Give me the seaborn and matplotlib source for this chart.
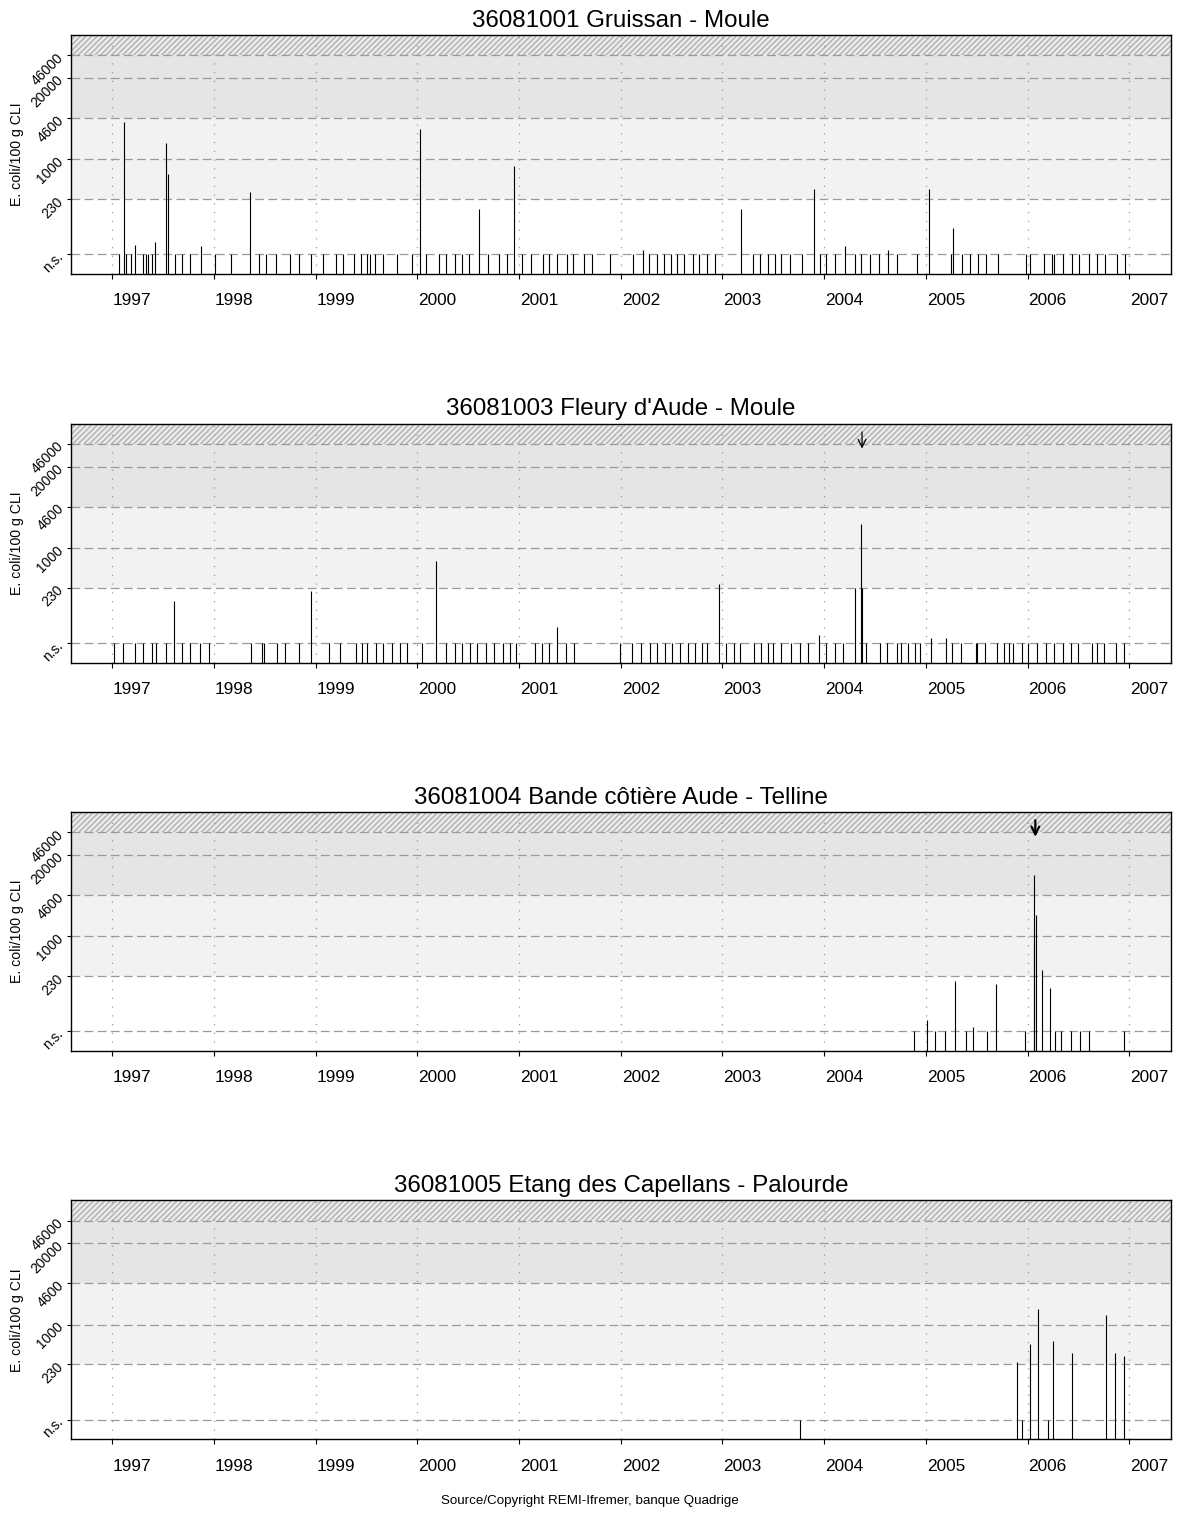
import pandas as pd
import matplotlib.pyplot as plt
from matplotlib.ticker import NullFormatter, NullLocator
import seaborn as sns

NS = 30  # where "n.s." results are drawn
Y_MIN, Y_MAX = 14.6, 97500

titles = [
    "36081001 Gruissan - Moule",
    "36081003 Fleury d'Aude - Moule",
    "36081004 Bande côtière Aude - Telline",
    "36081005 Etang des Capellans - Palourde",
]

# 36081001 Gruissan - Moule
p1_year = [1997.069, 1997.112, 1997.13, 1997.184, 1997.226, 1997.305, 1997.328, 1997.348, 1997.387, 1997.42,
           1997.531, 1997.545, 1997.613, 1997.682, 1997.761, 1997.875, 1998.013, 1998.167, 1998.357, 1998.44,
           1998.508, 1998.61, 1998.744, 1998.836, 1998.957, 1999.069, 1999.2, 1999.268, 1999.374, 1999.445,
           1999.501, 1999.537, 1999.586, 1999.662, 1999.796, 1999.944, 2000.022, 2000.08, 2000.215, 2000.281,
           2000.367, 2000.439, 2000.504, 2000.606, 2000.694, 2000.8, 2000.878, 2000.947, 2001.025, 2001.12,
           2001.232, 2001.297, 2001.37, 2001.468, 2001.527, 2001.638, 2001.717, 2001.894, 2002.117, 2002.218,
           2002.28, 2002.359, 2002.428, 2002.49, 2002.556, 2002.622, 2002.707, 2002.772, 2002.845, 2002.926,
           2003.179, 2003.303, 2003.369, 2003.45, 2003.516, 2003.58, 2003.664, 2003.779, 2003.897, 2003.956,
           2004.015, 2004.11, 2004.205, 2004.3, 2004.362, 2004.45, 2004.536, 2004.624, 2004.719, 2004.915,
           2005.027, 2005.244, 2005.263, 2005.352, 2005.43, 2005.515, 2005.591, 2005.709, 2005.981, 2006.024,
           2006.165, 2006.241, 2006.257, 2006.345, 2006.434, 2006.508, 2006.604, 2006.679, 2006.761, 2006.876,
           2006.958]
p1_val = [NS, 3950, NS, NS, 42, NS, NS, NS, NS, 47,
          1800, 580, NS, NS, NS, 41, NS, NS, 303, NS,
          NS, NS, NS, NS, NS, NS, NS, NS, NS, NS,
          NS, NS, NS, NS, NS, NS, 3020, NS, NS, NS,
          NS, NS, NS, 160, NS, NS, NS, 780, NS, NS,
          NS, NS, NS, NS, NS, NS, NS, NS, NS, 35,
          NS, NS, NS, NS, NS, NS, NS, NS, NS, NS,
          160, NS, NS, NS, NS, NS, NS, NS, 332, NS,
          NS, NS, 41, NS, NS, NS, NS, 35, NS, NS,
          332, NS, 79, NS, NS, NS, NS, NS, NS, NS,
          NS, NS, NS, NS, NS, NS, NS, NS, NS, NS,
          NS]

# 36081003 Fleury d'Aude - Moule
p2_year = [1997.013, 1997.108, 1997.226, 1997.305, 1997.387, 1997.426, 1997.531, 1997.61, 1997.685, 1997.764,
           1997.862, 1997.951, 1998.361, 1998.475, 1998.492, 1998.622, 1998.698, 1998.836, 1998.954, 1999.131,
           1999.236, 1999.396, 1999.452, 1999.507, 1999.59, 1999.665, 1999.747, 1999.83, 1999.9, 2000.045,
           2000.183, 2000.281, 2000.37, 2000.439, 2000.517, 2000.586, 2000.675, 2000.753, 2000.842, 2000.912,
           2000.97, 2001.156, 2001.225, 2001.294, 2001.373, 2001.461, 2001.54, 2001.992, 2002.11, 2002.198,
           2002.287, 2002.356, 2002.434, 2002.503, 2002.582, 2002.66, 2002.729, 2002.798, 2002.843, 2002.961,
           2003.039, 2003.115, 2003.177, 2003.308, 2003.383, 2003.448, 2003.498, 2003.579, 2003.671, 2003.759,
           2003.841, 2003.949, 2004.015, 2004.11, 2004.185, 2004.3, 2004.362, 2004.375, 2004.414, 2004.552,
           2004.62, 2004.712, 2004.751, 2004.823, 2004.895, 2004.944, 2005.046, 2005.2, 2005.255, 2005.347,
           2005.488, 2005.501, 2005.583, 2005.7, 2005.772, 2005.822, 2005.854, 2005.943, 2006.0, 2006.097,
           2006.182, 2006.263, 2006.352, 2006.427, 2006.499, 2006.633, 2006.683, 2006.754, 2006.869, 2006.944]
p2_val = [NS, NS, NS, NS, NS, NS, NS, 142, NS, NS,
          NS, NS, NS, NS, NS, NS, NS, NS, 203, NS,
          NS, NS, NS, NS, NS, NS, NS, NS, NS, NS,
          630, NS, NS, NS, NS, NS, NS, NS, NS, NS,
          NS, NS, NS, NS, 54, NS, NS, NS, NS, NS,
          NS, NS, NS, NS, NS, NS, NS, NS, NS, 262,
          NS, NS, NS, NS, NS, NS, NS, NS, NS, NS,
          NS, 40, NS, NS, NS, 230, 2390, 230, NS, NS,
          NS, NS, NS, NS, NS, NS, 36, 36, NS, NS,
          NS, NS, NS, NS, NS, NS, NS, NS, NS, NS,
          NS, NS, NS, NS, NS, NS, NS, NS, NS, NS]

# 36081004 Bande côtière Aude - Telline
p3_year = [2004.881, 2005.013, 2005.092, 2005.191, 2005.287, 2005.399, 2005.459, 2005.597, 2005.693, 2005.97,
           2006.059, 2006.066, 2006.086, 2006.139, 2006.218, 2006.274, 2006.333, 2006.426, 2006.512, 2006.607,
           2006.95]
p3_val = [NS, 45, NS, NS, 190, NS, 35, NS, 171, NS,
          9460, 863, 2170, 293, 151, NS, NS, NS, NS, NS,
          NS]

# 36081005 Etang des Capellans - Palourde
p4_year = [2003.76, 2005.894, 2005.947, 2006.02, 2006.099, 2006.201, 2006.254, 2006.436, 2006.772, 2006.855,
           2006.95]
p4_val = [NS, 249, NS, 484, 1800, NS, 541, 357, 1410, 357,
          311]

# results above the plotted range (drawn as down arrows)
over_year = {titles[1]: [2004.372], titles[2]: [2006.076]}

years = list(range(1997, 2008))
thresholds = [NS, 230, 1000, 4600, 20000, 46000]
threshold_labels = ["n.s.", "230", "1000", "4600", "20000", "46000"]

df = pd.concat([
    pd.DataFrame({"station": t, "year": y, "value": v})
    for t, y, v in zip(titles, [p1_year, p2_year, p3_year, p4_year], [p1_val, p2_val, p3_val, p4_val])
])

sns.set_style("white")
plt.rcParams['font.family'] = ['Liberation Sans', 'DejaVu Sans']
plt.rcParams.update({"text.color": "black", "axes.labelcolor": "black",
                     "xtick.color": "black", "ytick.color": "black"})


def stems(data, **kws):
    ax = plt.gca()
    ax.vlines(data["year"], Y_MIN, data["value"], color="black", lw=0.8, zorder=3)


g = sns.FacetGrid(df, row="station", row_order=titles, sharex=False, sharey=False,
                  height=2.4, aspect=4.6, despine=False)
g.map_dataframe(stems)
g.set_axis_labels("", "")

fig = g.figure
fig.set_size_inches(11.8, 15.15)

bottoms = [0.81914, 0.56257, 0.30627, 0.04997]
for ax, title, b in zip(g.axes.flat, titles, bottoms):
    ax.set_position([0.06017, b, 0.9322, 0.15776])
    ax.set_yscale("log")
    ax.set_ylim(Y_MIN, Y_MAX)
    ax.set_xlim(1996.594, 2007.41)

    ax.axhspan(230, 4600, color="#f2f2f2", lw=0, zorder=0)
    ax.axhspan(4600, 46000, color="#e5e5e5", lw=0, zorder=0)
    ax.axhspan(46000, Y_MAX, facecolor="#ebebeb", edgecolor="#b0b0b0", hatch="//////", lw=0, zorder=0)

    for v in thresholds:
        ax.axhline(v, color="#9a9a9a", lw=0.9, dashes=(7, 3.5), zorder=1)
    for yr in years:
        ax.axvline(yr, color="#9a9a9a", lw=0.9, dashes=(1, 6), zorder=1)

    for x in over_year.get(title, []):
        bold = title == titles[2]
        ax.annotate("", xy=(x, 39000), xytext=(x, 72000),
                    arrowprops=dict(arrowstyle="->", color="black", lw=1.6 if bold else 0.9,
                                    shrinkA=0, shrinkB=0, mutation_scale=14), zorder=4)

    ax.set_yticks(thresholds)
    ax.set_yticklabels(threshold_labels)
    ax.yaxis.set_minor_locator(NullLocator())
    for lab in ax.get_yticklabels():
        lab.set_rotation(45)
        lab.set_rotation_mode("anchor")
        lab.set_va("center")
    ax.tick_params(axis="y", left=True, length=3, width=0.8, pad=4, labelsize=10)

    ax.set_xticks(years)
    ax.xaxis.set_major_formatter(NullFormatter())
    ax.set_xticks([y + 0.197 for y in years], minor=True)
    ax.set_xticklabels([str(y) for y in years], minor=True)
    ax.tick_params(axis="x", which="major", bottom=True, length=3.5, width=0.8)
    ax.tick_params(axis="x", which="minor", bottom=True, length=0, pad=14, labelsize=12.4)

    for s in ax.spines.values():
        s.set_color("black")
        s.set_linewidth(1.0)
        s.set_zorder(5)

    ax.set_title(title, fontsize=17.4, pad=6, color="black")
    fig.text(17 / 1180, b + 0.15776 / 2, "E. coli/100 g CLI", rotation=90,
             ha="center", va="center", fontsize=10.2, color="black")

fig.text(0.5, 1 - 1501 / 1515, "Source/Copyright REMI-Ifremer, banque Quadrige",
         ha="center", va="center", fontsize=9.6, color="black")

fig.savefig("out.png", dpi=100)
